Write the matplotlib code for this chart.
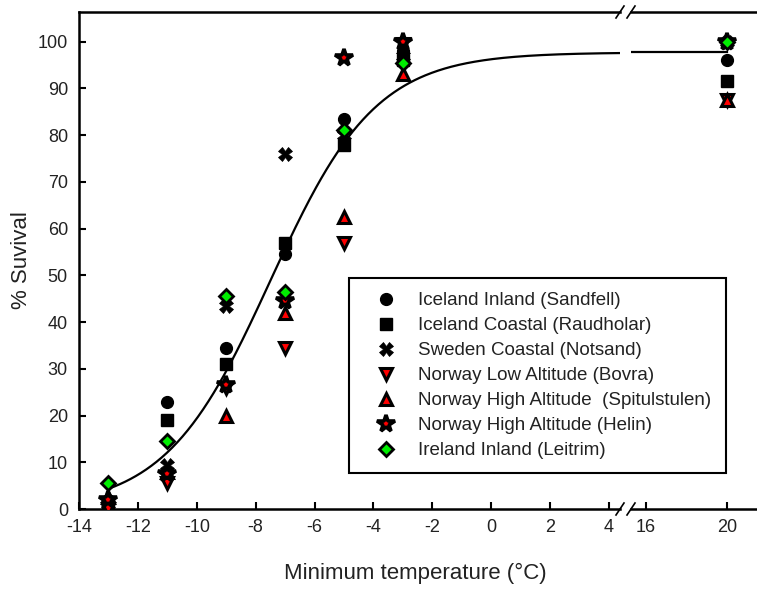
import numpy as np
import matplotlib
matplotlib.use("Agg")
import matplotlib.pyplot as plt
from matplotlib.lines import Line2D

plt.rcParams['font.family'] = ['Liberation Sans', 'DejaVu Sans']
plt.rcParams['axes.unicode_minus'] = False

# ---------------- data ----------------
temps = [-13, -11, -9, -7, -5, -3, 20]

labels = [
    "Iceland Inland (Sandfell)",
    "Iceland Coastal (Raudholar)",
    "Sweden Coastal (Notsand)",
    "Norway Low Altitude (Bovra)",
    "Norway High Altitude  (Spitulstulen)",
    "Norway High Altitude (Helin)",
    "Ireland Inland (Leitrim)",
]
sandfell     = [2.0, 23.0, 34.5, 54.5, 83.5, 98.0, 96.0]
raudholar    = [1.0, 19.0, 31.0, 57.0, 78.0, 96.0, 91.5]
notsand      = [1.0, 9.5, 43.5, 76.0, 80.0, 97.0, 100.0]
bovra        = [0.0, 5.5, 26.0, 34.5, 57.0, 99.5, 87.5]
spitulstulen = [2.5, 8.0, 20.0, 42.0, 62.5, 93.0, 87.5]
helin        = [2.0, 7.5, 26.5, 44.5, 96.5, 100.0, 100.0]
leitrim      = [5.5, 14.5, 45.5, 46.5, 81.0, 95.5, 100.0]
series = [sandfell, raudholar, notsand, bovra, spitulstulen, helin, leitrim]

# fitted sigmoid
fit_top = 97.7
fit_mid = -7.5
fit_scale = 1.79

left_ticks = [-14, -12, -10, -8, -6, -4, -2, 0, 2, 4]
right_ticks = [16, 20]
y_ticks = [0, 10, 20, 30, 40, 50, 60, 70, 80, 90, 100]

# ---------------- styles ----------------
styles = [
    dict(marker='o', ms=8.5, mfc='black', mec='black', mew=1.0),
    dict(marker='s', ms=8, mfc='black', mec='black', mew=1.0),
    dict(marker='X', ms=9.5, mfc='black', mec='black', mew=0.5),
    dict(marker='v', ms=9, mfc='red', mec='black', mew=2.2),
    dict(marker='^', ms=9, mfc='red', mec='black', mew=2.2),
    dict(marker='*', ms=13, mfc='red', mec='black', mew=2.6),
    dict(marker='D', ms=7, mfc='#00ee00', mec='black', mew=2.0),
]

W, H = 757, 589
def rect(l, r, t, b):
    return [l / W, 1 - b / H, (r - l) / W, (b - t) / H]

fig = plt.figure(figsize=(W / 100, H / 100), dpi=100)
axL = fig.add_axes(rect(79, 620, 12, 509))
axR = fig.add_axes(rect(631, 757, 12, 509))

y0_px, y100_px, ytop_px = 509, 41.7, 12
ymax = (y0_px - ytop_px) / ((y0_px - y100_px) / 100)

def sigmoid(x):
    return fit_top / (1 + np.exp(-(x - fit_mid) / fit_scale))

xl = np.linspace(-13, 4.6, 400)
axL.plot(xl, sigmoid(xl), color='black', lw=1.6, zorder=1)
xr = np.linspace(15.0, 20, 60)
axR.plot(xr, sigmoid(xr), color='black', lw=1.6, zorder=1)

handles = []
for vals, st, lab in zip(series, styles, labels):
    xs_l = [t for t in temps if t < 10]
    ys_l = [v for t, v in zip(temps, vals) if t < 10]
    xs_r = [t for t in temps if t >= 10]
    ys_r = [v for t, v in zip(temps, vals) if t >= 10]
    h, = axL.plot(xs_l, ys_l, ls='none', label=lab, zorder=3, **st)
    axR.plot(xs_r, ys_r, ls='none', zorder=3, clip_on=False, **st)
    handles.append(h)

axL.set_xlim(-14, -14 + (620 - 79) / 29.44)
axR.set_xlim(16 - (645.7 - 631) / 20.25, 16 + (757 - 645.7) / 20.25)
for ax in (axL, axR):
    ax.set_ylim(0, ymax)
    for s in ax.spines.values():
        s.set_linewidth(1.8)
    ax.tick_params(direction='in', length=5, width=1.5, labelsize=13,
                   labelcolor='#222222')
    ax.tick_params(axis='x', pad=7)
    ax.tick_params(axis='y', pad=8)

axL.set_xticks(left_ticks)
axL.set_yticks(y_ticks)
axL.spines['right'].set_visible(False)
axR.set_xticks(right_ticks)
axR.set_yticks([])
axR.spines['left'].set_visible(False)
axR.spines['right'].set_visible(False)

# break marks
for xc in (620, 631):
    for yc in (509, 12):
        fig.add_artist(Line2D([(xc - 4) / W, (xc + 4) / W],
                              [1 - (yc + 6) / H, 1 - (yc - 6) / H],
                              color='black', lw=1.2, transform=fig.transFigure))

leg = fig.legend(handles=handles, loc='upper left',
                 bbox_to_anchor=(349 / W, 1 - 278 / H), bbox_transform=fig.transFigure,
                 borderaxespad=0, fontsize=13.5, numpoints=1, handlelength=2.4,
                 handletextpad=0.55, labelspacing=0.42, borderpad=0.75,
                 fancybox=False, framealpha=1, edgecolor='black')
leg.get_frame().set_linewidth(1.5)
for t in leg.get_texts():
    t.set_color('#222222')

fig.text(22 / W, 1 - 260 / H, '% Suvival', rotation=90, ha='center', va='center',
         fontsize=16, color='#222222')
fig.text(415 / W, 1 - 573 / H, 'Minimum temperature (°C)', ha='center', va='center',
         fontsize=16, color='#222222')

fig.savefig('out.png', dpi=100)
